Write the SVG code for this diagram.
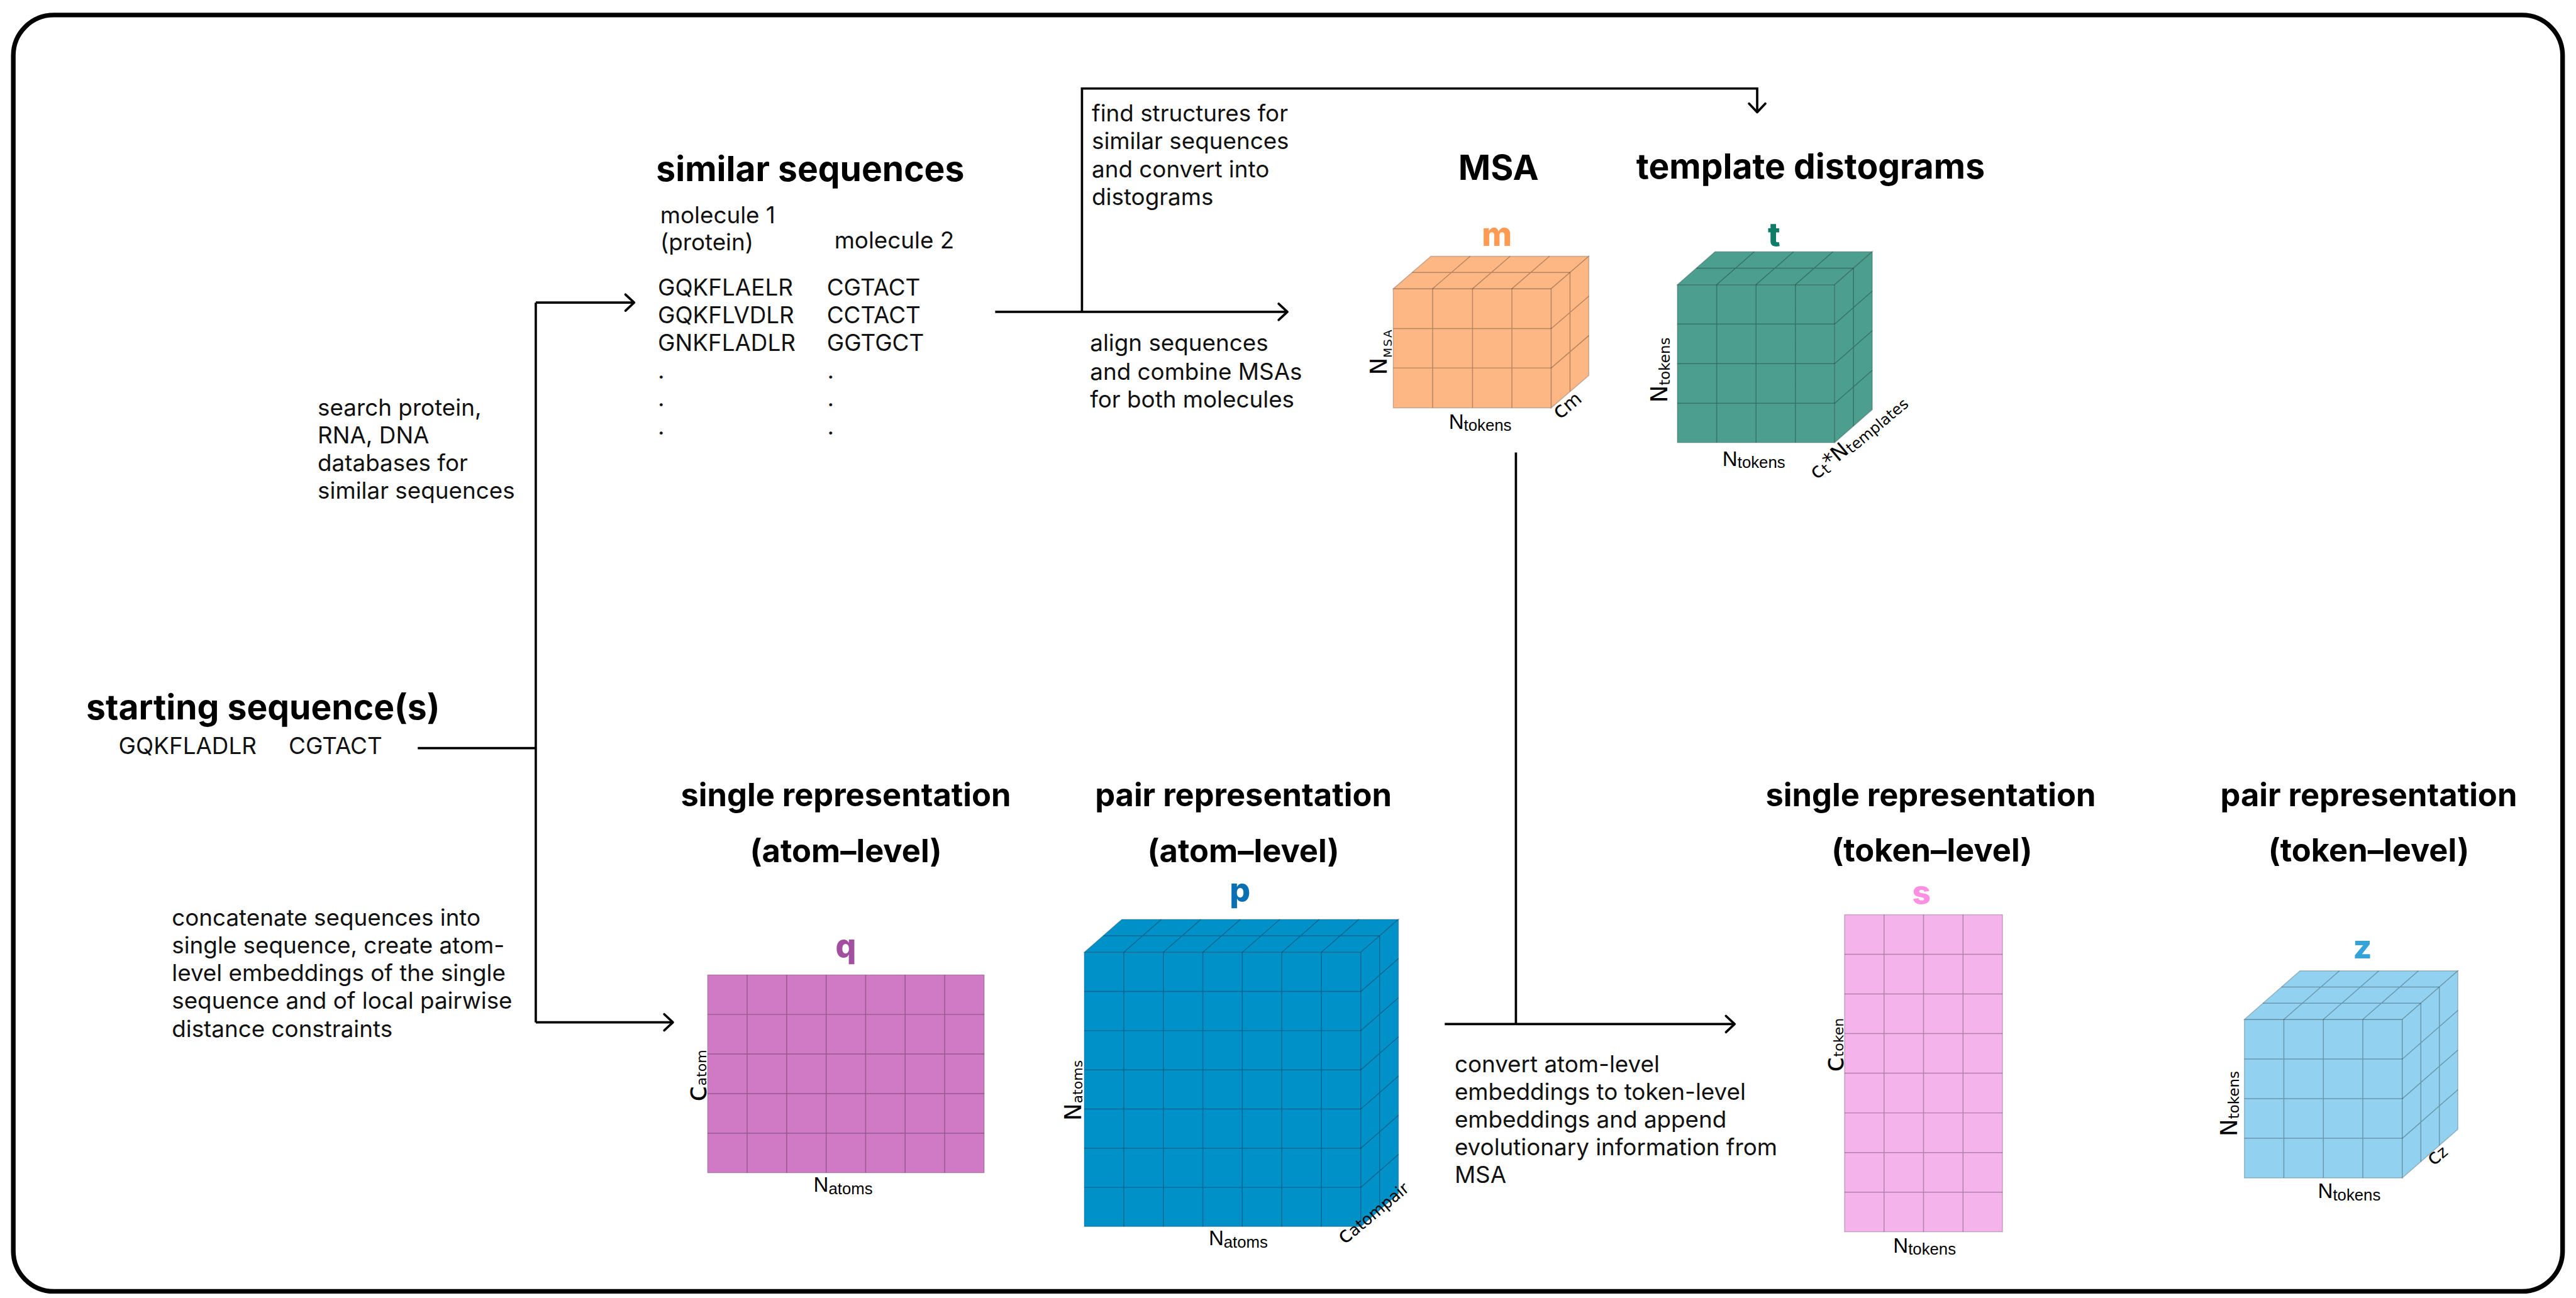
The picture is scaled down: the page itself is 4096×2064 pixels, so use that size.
<svg xmlns="http://www.w3.org/2000/svg" width="4096" height="2064" viewBox="0 0 4096 2064">
<defs>
<style>
.t{font-family:Inter,"Liberation Sans",sans-serif;font-size:40px;fill:#111}
.h{font-family:Inter,"Liberation Sans",sans-serif;font-weight:700;font-size:60px;fill:#000}
.hc{font-family:Inter,"Liberation Sans",sans-serif;font-weight:700;font-size:55px;fill:#000;text-anchor:middle}
.L{font-family:Inter,"Liberation Sans",sans-serif;font-weight:800;font-size:56px;text-anchor:middle}
.dim{font-family:"Liberation Sans",Arial,sans-serif;font-size:36px;fill:#000}
.dim .s{font-size:28px}
.rot{font-family:"DejaVu Sans",sans-serif;font-size:40px;fill:#000}
.ln{stroke:#000;stroke-width:4;fill:none}
.grid{stroke:#000;stroke-opacity:0.28;stroke-width:1.6;fill:none}
.edge{stroke:#000;stroke-opacity:0.22;stroke-width:1.6}
</style>
<marker id="arr" viewBox="-20 -18 24 36" refX="0" refY="0" markerWidth="24" markerHeight="36" markerUnits="userSpaceOnUse" orient="auto">
<path d="M-15,-14 L0,0 L-15,14" fill="none" stroke="#000" stroke-width="4" stroke-linecap="round" stroke-linejoin="round"/>
</marker>
</defs>
<rect width="4096" height="2064" fill="#fff"/>
<g transform="scale(0.92)">
<rect id="frame" x="23" y="26" width="4406" height="2206" rx="70" ry="70" fill="none" stroke="#000" stroke-width="8"/>

<g id="connectors">
<path class="ln" d="M722 1293H926"/>
<path class="ln" d="M926 523V1767"/>
<path class="ln" d="M926 523H1096" marker-end="url(#arr)"/>
<path class="ln" d="M926 1767H1163" marker-end="url(#arr)"/>
<path class="ln" d="M1720 539H2225" marker-end="url(#arr)"/>
<path class="ln" d="M1870 539V153H3037V194" marker-end="url(#arr)"/>
<path class="ln" d="M2620 782V1770"/>
<path class="ln" d="M2497 1770H2998" marker-end="url(#arr)"/>
</g>

<g id="starting">
<text class="h" x="149" y="1243">starting sequence(s)</text>
<text class="t" x="205" y="1303">GQKFLADLR</text>
<text class="t" x="499" y="1303">CGTACT</text>
</g>

<g id="search-label">
<text class="t" x="549" y="718">search protein,</text>
<text class="t" x="549" y="766">RNA, DNA</text>
<text class="t" x="549" y="814">databases for</text>
<text class="t" x="549" y="862">similar sequences</text>
</g>

<g id="concat-label">
<text class="t" x="297" y="1600">concatenate sequences into</text>
<text class="t" x="297" y="1648">single sequence, create atom-</text>
<text class="t" x="297" y="1696">level embeddings of the single</text>
<text class="t" x="297" y="1744">sequence and of local pairwise</text>
<text class="t" x="297" y="1792">distance constraints</text>
</g>

<g id="similar">
<text class="h" x="1134" y="313">similar sequences</text>
<text class="t" x="1141" y="386">molecule 1</text>
<text class="t" x="1141" y="433">(protein)</text>
<text class="t" x="1442" y="429">molecule 2</text>
<text class="t" x="1137" y="511">GQKFLAELR</text>
<text class="t" x="1137" y="559">GQKFLVDLR</text>
<text class="t" x="1137" y="607">GNKFLADLR</text>
<text class="t" x="1429" y="511">CGTACT</text>
<text class="t" x="1429" y="559">CCTACT</text>
<text class="t" x="1429" y="607">GGTGCT</text>
<text class="t" x="1137" y="654">.</text>
<text class="t" x="1137" y="702">.</text>
<text class="t" x="1137" y="751">.</text>
<text class="t" x="1430" y="654">.</text>
<text class="t" x="1430" y="702">.</text>
<text class="t" x="1430" y="751">.</text>
</g>

<g id="find-label">
<text class="t" x="1887" y="210">find structures for</text>
<text class="t" x="1887" y="258">similar sequences</text>
<text class="t" x="1887" y="306">and convert into</text>
<text class="t" x="1887" y="354">distograms</text>
</g>

<g id="align-label">
<text class="t" x="1884" y="607">align sequences</text>
<text class="t" x="1884" y="656">and combine MSAs</text>
<text class="t" x="1884" y="704">for both molecules</text>
</g>

<g id="convert-label">
<text class="t" x="2514" y="1853">convert atom-level</text>
<text class="t" x="2514" y="1901">embeddings to token-level</text>
<text class="t" x="2514" y="1949">embeddings and append</text>
<text class="t" x="2514" y="1997">evolutionary information from</text>
<text class="t" x="2514" y="2045">MSA</text>
</g>

<g id="msa">
<text class="h" x="2590" y="311" text-anchor="middle">MSA</text>
<text class="L" x="2587" y="425" fill="#FF9A52">m</text>
<g fill="#FDB784">
<rect x="2408" y="499" width="273" height="206" class="edge"/>
<polygon points="2408,499 2681,499 2746,443 2473,443" class="edge"/>
<polygon points="2681,499 2746,443 2746,649 2681,705" class="edge"/>
</g>
<path class="grid" d="M2476 499V705M2545 499V705M2613 499V705M2408 568H2681M2408 636H2681M2476 499L2541 443M2545 499L2610 443M2613 499L2678 443M2440.5 471H2713.5M2713.5 471V677M2681 568L2746 512M2681 636L2746 580"/>
<text class="rot" transform="translate(2397,648) rotate(-90)">N<tspan font-size="20" dy="8" letter-spacing="2">MSA</tspan></text>
<text class="dim" x="2504" y="741">N<tspan class="s" dy="4">tokens</tspan></text>
<text class="rot" transform="translate(2696,726) rotate(-40)"><tspan font-size="38">c</tspan><tspan font-size="32">m</tspan></text>
</g>

<g id="template">
<text class="h" x="2828" y="309">template distograms</text>
<text class="L" x="3066" y="425" fill="#0E7C66">t</text>
<g fill="#4C9F8F">
<rect x="2899" y="492" width="272" height="273" class="edge"/>
<polygon points="2899,492 3171,492 3236,435 2964,435" class="edge"/>
<polygon points="3171,492 3236,435 3236,708 3171,765" class="edge"/>
</g>
<path class="grid" d="M2967 492V765M3035 492V765M3103 492V765M2899 560H3171M2899 628.5H3171M2899 697H3171M2967 492L3032 435M3035 492L3100 435M3103 492L3168 435M2931.5 463.5H3203.5M3203.5 463.5V736.5M3171 560L3236 503M3171 628.5L3236 571.5M3171 697L3236 640"/>
<text class="rot" transform="translate(2882,696) rotate(-90)">N<tspan font-size="25" dy="4">tokens</tspan></text>
<text class="dim" x="2977" y="805">N<tspan class="s" dy="4">tokens</tspan></text>
<text class="rot" transform="translate(3140,830) rotate(-40)"><tspan font-size="36">c</tspan><tspan font-size="26" dy="4">t</tspan><tspan font-size="36" dy="-4">*N</tspan><tspan font-size="26" dy="4">templates</tspan></text>
</g>

<g id="q-single-atom">
<text class="hc" x="1462" y="1393">single representation</text>
<text class="hc" x="1462" y="1490">(atom–level)</text>
<text class="L" x="1462" y="1654" fill="#A24FA0">q</text>
<rect x="1223" y="1685" width="478" height="342" fill="#D07AC6" class="edge"/>
<path class="grid" d="M1291.3 1685V2027M1359.6 1685V2027M1427.9 1685V2027M1496.1 1685V2027M1564.4 1685V2027M1632.7 1685V2027M1223 1753.4H1701M1223 1821.8H1701M1223 1890.2H1701M1223 1958.6H1701"/>
<text class="rot" transform="translate(1221,1904) rotate(-90)"><tspan font-size="50">c</tspan><tspan font-size="24">atom</tspan></text>
<text class="dim" x="1406" y="2060">N<tspan class="s" dy="4">atoms</tspan></text>
</g>

<g id="p-pair-atom">
<text class="hc" x="2149" y="1393">pair representation</text>
<text class="hc" x="2149" y="1490">(atom–level)</text>
<text class="L" x="2143" y="1558" fill="#0B6FB3">p</text>
<g fill="#0091C9">
<rect x="1874" y="1646" width="478" height="474" class="edge"/>
<polygon points="1874,1646 2352,1646 2417,1589 1939,1589" class="edge"/>
<polygon points="2352,1646 2417,1589 2417,2063 2352,2120" class="edge"/>
</g>
<path class="grid" d="M1942.3 1646V2120M2010.6 1646V2120M2078.9 1646V2120M2147.1 1646V2120M2215.4 1646V2120M2283.7 1646V2120M1874 1713.7H2352M1874 1781.4H2352M1874 1849.1H2352M1874 1916.9H2352M1874 1984.6H2352M1874 2052.3H2352M1942.3 1646L2007.3 1589M2010.6 1646L2075.6 1589M2078.9 1646L2143.9 1589M2147.1 1646L2212.1 1589M2215.4 1646L2280.4 1589M2283.7 1646L2348.7 1589M1906.5 1617.5H2384.5M2384.5 1617.5V2091.5M2352 1713.7L2417 1656.7M2352 1781.4L2417 1724.4M2352 1849.1L2417 1792.1M2352 1916.9L2417 1859.9M2352 1984.6L2417 1927.6M2352 2052.3L2417 1995.3"/>
<text class="rot" transform="translate(1868,1937) rotate(-90)">N<tspan font-size="24" dy="3">atoms</tspan></text>
<text class="dim" x="2089" y="2152">N<tspan class="s" dy="4">atoms</tspan></text>
<text class="rot" transform="translate(2324,2152) rotate(-40)"><tspan font-size="38">c</tspan><tspan font-size="28">atompair</tspan></text>
</g>

<g id="s-single-token">
<text class="hc" x="3337" y="1393">single representation</text>
<text class="hc" x="3339" y="1489">(token–level)</text>
<text class="L" x="3321" y="1562" fill="#FF8FE0">s</text>
<rect x="3188" y="1581" width="273" height="548" fill="#F4B3EA" class="edge"/>
<path class="grid" d="M3256.25 1581V2129M3324.5 1581V2129M3392.75 1581V2129M3188 1649.5H3461M3188 1718H3461M3188 1786.5H3461M3188 1855H3461M3188 1923.5H3461M3188 1992H3461M3188 2060.5H3461"/>
<text class="rot" transform="translate(3186,1853) rotate(-90)"><tspan font-size="48">c</tspan><tspan font-size="24">token</tspan></text>
<text class="dim" x="3272" y="2165">N<tspan class="s" dy="4">tokens</tspan></text>
</g>

<g id="z-pair-token">
<text class="hc" x="4094" y="1393">pair representation</text>
<text class="hc" x="4094" y="1489">(token–level)</text>
<text class="L" x="4083" y="1656" fill="#35A3D8">z</text>
<g fill="#92D1EF">
<rect x="3879" y="1762" width="273" height="274" class="edge"/>
<polygon points="3879,1762 4152,1762 4248,1678 3975,1678" class="edge"/>
<polygon points="4152,1762 4248,1678 4248,1952 4152,2036" class="edge"/>
</g>
<path class="grid" d="M3947.25 1762V2036M4015.5 1762V2036M4083.75 1762V2036M3879 1830.5H4152M3879 1899H4152M3879 1967.5H4152M3947.25 1762L4043.25 1678M4015.5 1762L4111.5 1678M4083.75 1762L4179.75 1678M3911 1734H4184M3943 1706H4216M4184 1734V2008M4216 1706V1980M4152 1830.5L4248 1746.5M4152 1899L4248 1815M4152 1967.5L4248 1883.5"/>
<text class="rot" transform="translate(3866,1964) rotate(-90)">N<tspan font-size="25" dy="4">tokens</tspan></text>
<text class="dim" x="4006" y="2071">N<tspan class="s" dy="4">tokens</tspan></text>
<text class="rot" transform="translate(4206,2016) rotate(-40)"><tspan font-size="36">c</tspan><tspan font-size="28">z</tspan></text>
</g>
</g>
</svg>
